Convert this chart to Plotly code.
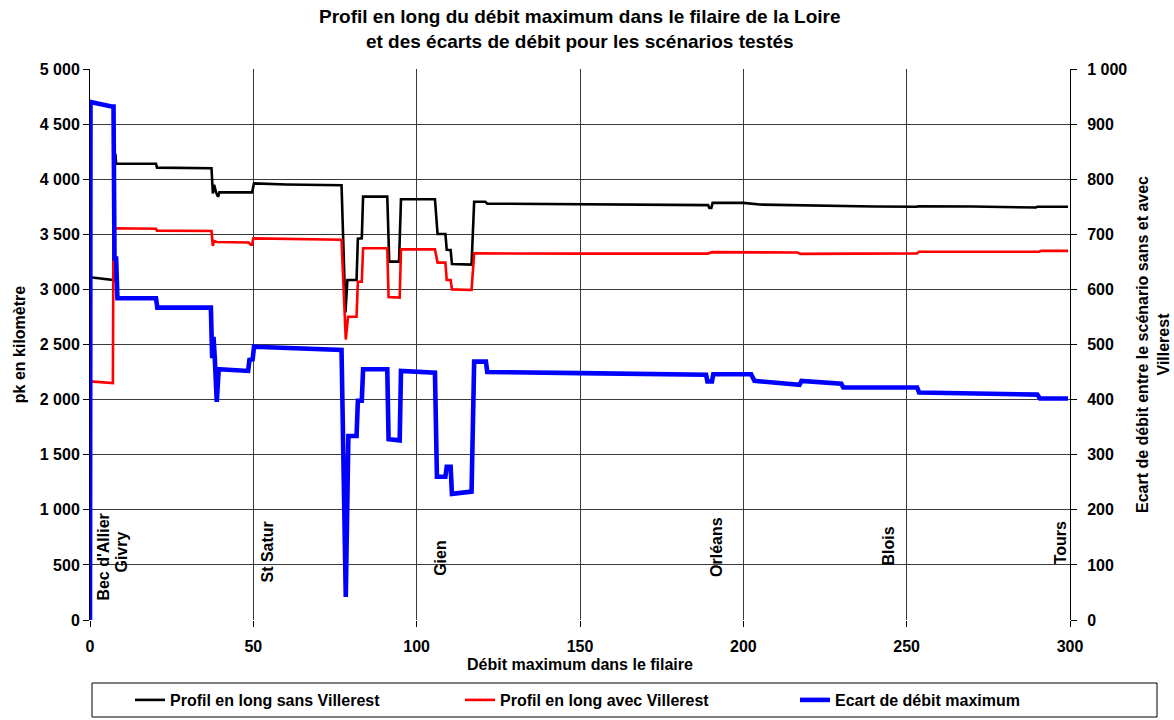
import plotly.graph_objects as go

# Profil "sans Villerest" (pk en kilomètre, axe gauche)
x_sans = [0, 6.2, 7.2, 7.4, 7.8, 8.0, 20.2, 20.5, 37.2, 37.6, 38.0, 38.6, 39.2, 39.6, 49.6, 50.2,
          60, 77.0, 78.2, 78.8, 81.6, 82.0, 83.2, 83.6, 91.0, 91.6, 94.6, 95.2, 105.6, 106.4,
          108.8, 109.2, 110.4, 110.8, 116.8, 117.6, 121.0, 121.6, 150, 170, 189.2, 189.6,
          190.2, 190.6, 200, 205, 220, 240, 253, 253.6, 270, 288.5, 289.5, 290, 299.4]
y_sans = [3110, 3085, 3085, 4220, 4220, 4140, 4140, 4105, 4100, 3870, 3950, 3880, 3840, 3880, 3880, 3962,
          3952, 3945, 2790, 3085, 3085, 3460, 3463, 3842, 3842, 3252, 3252, 3818, 3818, 3503,
          3503, 3360, 3358, 3230, 3225, 3796, 3796, 3778, 3775, 3770, 3765, 3740,
          3740, 3785, 3785, 3770, 3760, 3752, 3750, 3755, 3752, 3748, 3743, 3750, 3750]

# Profil "avec Villerest" (axe gauche)
x_avec = [0, 6.6, 7.0, 7.2, 20.2, 20.5, 37.2, 37.6, 38.0, 38.8, 48.6, 49.2, 49.6, 50.0, 77.0,
          78.3, 79.0, 81.6, 82.0, 83.2, 83.6, 91.0, 91.4, 94.8, 95.2, 105.6, 106.4, 108.8,
          109.2, 110.4, 110.8, 116.8, 117.6, 150, 189, 190.5, 216.5, 217.5, 235, 253.2,
          253.8, 290.5, 291.2, 299.4]
y_avec = [2165, 2150, 2150, 3555, 3550, 3533, 3530, 3395, 3440, 3430, 3425, 3405, 3405, 3463, 3450,
          2545, 2752, 2752, 3070, 3070, 3373, 3373, 2930, 2925, 3363, 3363, 3243, 3243,
          3085, 3085, 3000, 2995, 3327, 3325, 3325, 3338, 3335, 3322, 3325, 3327,
          3342, 3342, 3350, 3350]

# Écart de débit maximum (axe droit)
x_ecart = [0, 0.15, 6.6, 7.2, 7.5, 8.0, 8.4, 20.2, 20.6, 37.0, 37.4, 37.8, 38.2, 38.8, 39.4, 48.4,
           48.8, 49.8, 50.2, 77.0, 78.3, 79.1, 81.6, 82.0, 83.2, 83.6, 91.0, 91.4, 94.8, 95.2,
           105.6, 106.2, 108.8, 109.2, 110.4, 110.8, 116.8, 117.6, 121.2, 121.6, 150, 188.6,
           189.0, 190.4, 190.8, 202.4, 203.4, 217.2, 217.8, 230.0, 230.6, 253.2, 253.8, 290.0,
           290.8, 299.4]
y_ecart = [0, 940, 932, 932, 656, 656, 584, 584, 567, 567, 475, 514, 476, 396, 455, 452,
           472, 473, 496, 490, 42, 334, 334, 398, 398, 455, 455, 328, 326, 452,
           449, 260, 260, 278, 278, 229, 233, 469, 469, 450, 448, 445,
           433, 433, 446, 446, 434, 427, 434, 429, 422, 422, 413, 409,
           402, 402]

# Villes le long du filaire
villes = ["Bec d'Allier", "Givry", "St Satur", "Gien", "Orléans", "Blois", "Tours"]
villes_x = [4.0, 9.8, 54.2, 107.1, 191.6, 244.3, 297.2]
villes_y = [154, 408, 318, 381, 372, 472, 490]

# Graduations
y_left_vals = [0, 500, 1000, 1500, 2000, 2500, 3000, 3500, 4000, 4500, 5000]
y_left_text = ["0", "500", "1 000", "1 500", "2 000", "2 500", "3 000", "3 500", "4 000", "4 500", "5 000"]
y_right_vals = [0, 100, 200, 300, 400, 500, 600, 700, 800, 900, 1000]
y_right_text = ["0", "100", "200", "300", "400", "500", "600", "700", "800", "900", "1 000"]

FONT = "Liberation Sans, Arial, sans-serif"
GRID = "#3a3a3a"

# Géométrie de la zone de tracé (pixels)
L, R, T, B = 90, 104, 69, 100
W, H = 1174, 720
PW, PH = W - L - R, H - T - B


def px_x(p):
    return (p - L) / PW


def px_y(p):
    return (H - B - p) / PH


bold = dict(family=FONT, size=16, color="black", weight="bold")

fig = go.Figure()
fig.add_trace(go.Scatter(x=x_sans, y=y_sans, mode="lines", name="Profil en long sans Villerest",
                         line=dict(color="black", width=2.6), legend="legend"))
fig.add_trace(go.Scatter(x=x_avec, y=y_avec, mode="lines", name="Profil en long avec Villerest",
                         line=dict(color="#ff0000", width=2.6), legend="legend2"))
fig.add_trace(go.Scatter(x=x_ecart, y=y_ecart, mode="lines", name="Ecart de débit maximum",
                         line=dict(color="#0000ff", width=4.6), yaxis="y2", legend="legend3"))

for name, vx, vy in zip(villes, villes_x, villes_y):
    fig.add_annotation(x=vx, y=vy, xref="x", yref="y", text=name, textangle=-90,
                       showarrow=False, xanchor="center", yanchor="bottom", font=bold)

# Titre sur deux lignes
fig.add_annotation(xref="paper", yref="paper", x=0.5, y=px_y(29), xanchor="center", yanchor="middle",
                   text="Profil en long du débit maximum dans le filaire de la Loire<br>"
                        "et des écarts de débit pour les scénarios testés",
                   showarrow=False, font=dict(family=FONT, size=19, color="black", weight="bold"))

# Cadre de la légende
fig.add_shape(type="rect", xref="paper", yref="paper",
              x0=px_x(92), x1=px_x(1157), y0=px_y(717), y1=px_y(683),
              line=dict(color="black", width=1), fillcolor="rgba(0,0,0,0)")

legend_common = dict(orientation="h", xanchor="left", y=px_y(683), yanchor="top",
                     bgcolor="rgba(0,0,0,0)", borderwidth=0, font=bold)

fig.update_layout(
    width=W, height=H,
    margin=dict(l=L, r=R, t=T, b=B, autoexpand=False),
    paper_bgcolor="white", plot_bgcolor="white",
    font=bold,
    xaxis=dict(range=[0, 300], dtick=50, tick0=0, showgrid=True, gridcolor=GRID, gridwidth=1,
               zeroline=False, ticks="outside", ticklen=6, tickcolor="black",
               ticklabelstandoff=6, showline=False,
               title=dict(text="Débit maximum dans le filaire", standoff=4, font=bold),
               tickfont=bold),
    yaxis=dict(range=[0, 5000], tickvals=y_left_vals, ticktext=y_left_text,
               showgrid=True, gridcolor=GRID, gridwidth=1, zeroline=False,
               showline=True, linecolor="black", linewidth=1,
               ticks="outside", ticklen=6, tickcolor="black",
               title=dict(text="pk en kilomètre", standoff=10, font=bold),
               tickfont=bold),
    yaxis2=dict(range=[0, 1000], tickvals=y_right_vals, ticktext=y_right_text,
                overlaying="y", side="right", showgrid=False, zeroline=False,
                showline=True, linecolor="black", linewidth=1,
                ticks="outside", ticklen=6, tickcolor="black", ticklabelstandoff=7,
                title=dict(text="Ecart de débit entre le scénario sans et avec<br>Villerest",
                           standoff=10, font=bold),
                tickfont=bold),
    showlegend=True,
    legend=dict(x=px_x(130), **legend_common),
    legend2=dict(x=px_x(460), **legend_common),
    legend3=dict(x=px_x(795), **legend_common),
)

fig.write_html("out.html")
